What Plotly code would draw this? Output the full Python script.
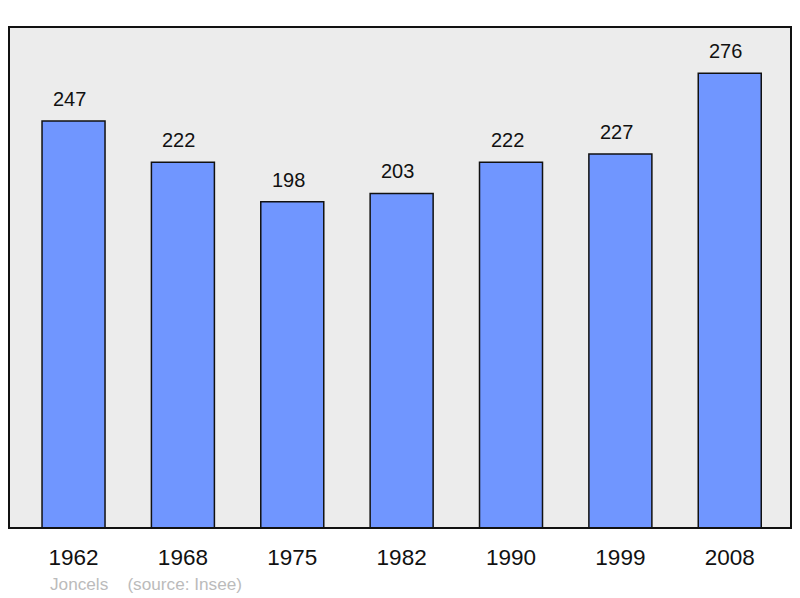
import plotly.graph_objects as go

years = ["1962", "1968", "1975", "1982", "1990", "1999", "2008"]
population = [247, 222, 198, 203, 222, 227, 276]
footer_text = "Joncels    (source: Insee)"

FONT = "Liberation Sans, Arial, sans-serif"

fig = go.Figure()
fig.add_trace(go.Bar(
    x=list(range(len(years))),
    y=population,
    width=0.576,
    marker=dict(color="#7096ff", line=dict(color="#111111", width=1.5)),
    hoverinfo="skip",
))

for i, v in enumerate(population):
    fig.add_annotation(x=i, y=v, text=str(v), showarrow=False, yshift=22, xshift=-4,
                       font=dict(family=FONT, size=20, color="#111111"))

fig.add_shape(type="rect", xref="paper", yref="paper", x0=0, x1=1, y0=0, y1=1,
              line=dict(color="#111111", width=2), layer="above")

fig.add_annotation(xref="paper", yref="paper", x=(47.5 - 9) / 782, y=(528 - 584) / 501,
                   xanchor="left", yanchor="middle", showarrow=False,
                   text=footer_text, font=dict(family=FONT, size=17.2, color="#bbbbbb"))

fig.update_layout(
    width=800, height=598,
    margin=dict(l=9, r=9, t=27, b=70),
    paper_bgcolor="white",
    plot_bgcolor="#ececec",
    showlegend=False,
    hovermode=False,
    xaxis=dict(range=[-0.59, 6.56], tickmode="array", tickvals=list(range(len(years))),
               ticktext=years, showgrid=False, zeroline=False, ticks="",
               tickfont=dict(family=FONT, size=22.5, color="#111111"), ticklabelstandoff=13),
    yaxis=dict(range=[0, 304], showgrid=False, zeroline=False, showticklabels=False, ticks=""),
)

fig.write_html("out.html", config={"displayModeBar": False},
               post_script="document.body.style.margin='0';document.body.style.overflow='hidden';")
